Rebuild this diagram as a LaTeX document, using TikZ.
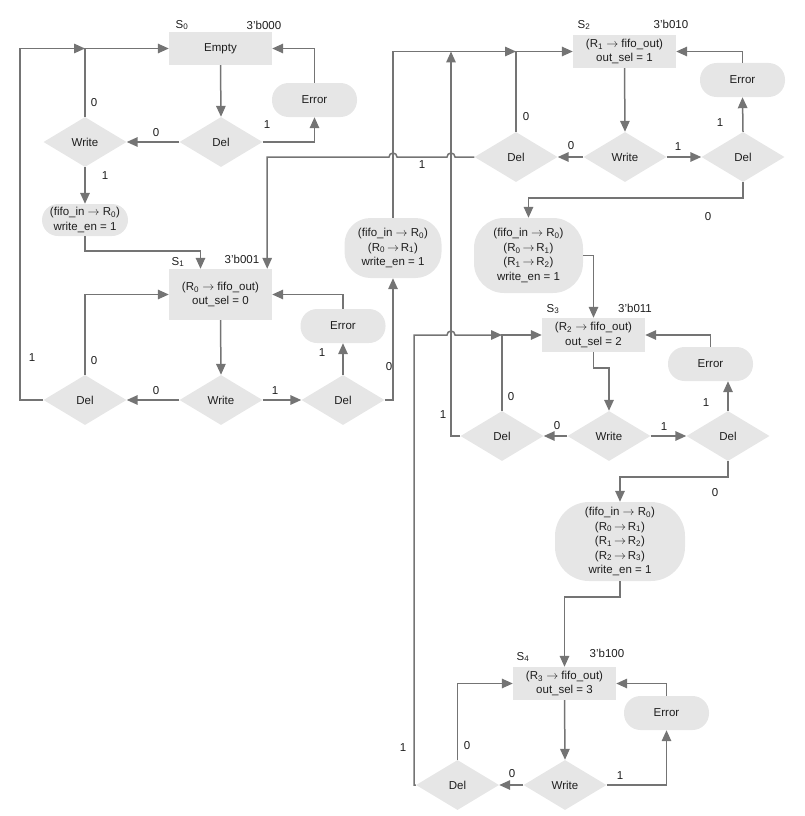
\documentclass[tikz,border=0pt]{standalone}
\usepackage{fontspec}
\setmainfont{Liberation Sans}
\usetikzlibrary{arrows.meta,shapes.geometric,calc}
\definecolor{fillg}{HTML}{E6E6E6}
\definecolor{lineg}{HTML}{747474}
\definecolor{txt}{HTML}{1E1E1E}
\newcommand{\myss}[1]{\textsubscript{#1}}
\newcommand{\ar}{$\rightarrow$}
\newcommand{\rr}[2]{(R\myss{#1}\,\ar\,R\myss{#2})}
\begin{document}
\begin{tikzpicture}[x=1pt,y=-1pt,
  every node/.style={font=\fontsize{11.5}{14.5}\selectfont, text=txt},
  blk/.style={rectangle, fill=fillg, inner sep=0pt, align=center, minimum width=103pt, minimum height=33pt},
  dia/.style={diamond, fill=fillg, inner sep=0pt, minimum width=83pt, minimum height=50pt},
  pill/.style={rectangle, rounded corners=#1, fill=fillg, inner sep=0pt, align=center},
  errbox/.style={pill=16.5pt, minimum width=85pt, minimum height=34pt},
  arr/.style={draw=lineg, line width=1.5pt, -{Triangle[length=11pt,width=9.5pt]}},
  lbl/.style={inner sep=0pt}
]
\useasboundingbox (0,0) rectangle (804,816);

% ---------- S0 ----------
\node[blk] (S0) at (220.5,48.5) {Empty};
\node[lbl] (S0n) at (182,25) {S\myss{0}};
\node[lbl] (S0c) at (264,25) {3'b000};
\node[errbox] (E0) at (314.5,100) {Error};
\node[dia] (D0) at (221,142) {Del};
\node[dia] (W0) at (85,142) {Write};
\node[pill=16pt, minimum width=86pt, minimum height=32pt] (P0) at (85,220) {(fifo\_in \ar\ R\myss{0})\\write\_en = 1};

% ---------- S1 ----------
\node[blk, minimum height=51pt] (S1) at (220.5,294.5) {(R\myss{0} \ar\ fifo\_out)\\out\_sel = 0};
\node[lbl] (S1n) at (178,262) {S\myss{1}};
\node[lbl] (S1c) at (242,259) {3'b001};
\node[dia] (W1) at (221,400) {Write};
\node[dia] (DL1) at (85,400) {Del};
\node[dia] (DR1) at (343,400) {Del};
\node[errbox] (E1) at (343,326) {Error};
\node[pill=26pt, minimum width=97pt, minimum height=60pt] (P1) at (393,248) {(fifo\_in \ar\ R\myss{0})\\\rr{0}{1}\\write\_en = 1};

% ---------- S2 ----------
\node[blk] (S2) at (624.5,51.5) {(R\myss{1} \ar\ fifo\_out)\\out\_sel = 1};
\node[lbl] (S2n) at (584,25) {S\myss{2}};
\node[lbl] (S2c) at (671,24) {3'b010};
\node[dia] (DL2) at (516,157) {Del};
\node[dia] (W2) at (625,157) {Write};
\node[dia] (DR2) at (743,157) {Del};
\node[errbox] (E2) at (742.5,80) {Error};
\node[pill=30pt, minimum width=109pt, minimum height=75pt] (P2) at (528.5,255.5) {(fifo\_in \ar\ R\myss{0})\\\rr{0}{1}\\\rr{1}{2}\\write\_en = 1};

% ---------- S3 ----------
\node[blk, minimum height=34pt] (S3) at (593.5,335) {(R\myss{2} \ar\ fifo\_out)\\out\_sel = 2};
\node[lbl] (S3n) at (553,309) {S\myss{3}};
\node[lbl] (S3c) at (635,308) {3'b011};
\node[dia] (DL3) at (502,436) {Del};
\node[dia] (W3) at (609,436) {Write};
\node[dia] (DR3) at (728,436) {Del};
\node[errbox] (E3) at (710.5,364) {Error};
\node[pill=34pt, minimum width=130pt, minimum height=79pt] (P3) at (620,541.5) {(fifo\_in \ar\ R\myss{0})\\\rr{0}{1}\\\rr{1}{2}\\\rr{2}{3}\\write\_en = 1};

% ---------- S4 ----------
\node[blk] (S4) at (564.5,683.5) {(R\myss{3} \ar\ fifo\_out)\\out\_sel = 3};
\node[lbl] (S4n) at (523,657) {S\myss{4}};
\node[lbl] (S4c) at (607,653) {3'b100};
\node[dia] (D4) at (457.5,785) {Del};
\node[dia] (W4) at (565,785) {Write};
\node[errbox] (E4) at (666.5,713) {Error};

% ---------- junction coordinates ----------
\coordinate (j0) at (W0.north |- S0.west);
\coordinate (o1) at (20,48.5);
\coordinate (j2) at (DL2.north |- S2.west);
\coordinate (j3) at (451,51.5);
\coordinate (j4) at (DL3.north |- S3.west);
\coordinate (o4) at (414,335);
\coordinate (S1in1) at ($(S1.north)+(-20,0)$);
\coordinate (S1in2) at ($(S1.north east)+(-5,0)$);

% ---------- S0 connectors ----------
\draw[arr] (S0.south) -- (D0.north);
\draw[arr] (D0.west) -- (W0.east);
\draw[arr] (D0.east) -| (E0.south);
\draw[arr] (E0.north) |- (S0.east);
\draw[arr] (W0.north) |- (S0.west);
\draw[arr] (W0.south) -- (P0.north);
\draw[arr] (P0.south) -- ++(0,15) -| (S1in1);

% ---------- S1 connectors ----------
\draw[arr] (S1.south) -- (W1.north);
\draw[arr] (W1.west) -- (DL1.east);
\draw[arr] (W1.east) -- (DR1.west);
\draw[arr] (DR1.north) -- (E1.south);
\draw[arr] (E1.north) |- (S1.east);
\draw[arr] (DL1.north) |- (S1.west);
\draw[arr] (DL1.west) -| (o1) -- (j0);
\draw[arr] (DR1.east) -| (P1.south);
\draw[arr] (P1.north) |- (j2);

% ---------- S2 connectors ----------
\draw[arr] (S2.south) -- (W2.north);
\draw[arr] (W2.west) -- (DL2.east);
\draw[arr] (W2.east) -- (DR2.west);
\draw[arr] (DR2.north) -- (E2.south);
\draw[arr] (E2.north) |- (S2.east);
\draw[arr] (DL2.north) |- (S2.west);
\draw[arr] (DL2.west) -- ($(j3 |- DL2.west)+(4,0)$) arc[start angle=0,end angle=180,radius=4pt]
  -- ($(P1.north |- DL2.west)+(4,0)$) arc[start angle=0,end angle=180,radius=4pt]
  -- (S1in2 |- DL2.west) -- (S1in2);
\draw[arr] (DR2.south) -- ++(0,16) -| (P2.north);
\draw[arr] (P2.east) -| (S3.north);

% ---------- S3 connectors ----------
\draw[arr] (S3.south) -- ++(0,16) -| (W3.north);
\draw[arr] (W3.west) -- (DL3.east);
\draw[arr] (W3.east) -- (DR3.west);
\draw[arr] (DR3.north) -- (DR3.north |- E3.south);
\draw[arr] (E3.north) |- (S3.east);
\draw[arr] (DL3.north) |- (S3.west);
\draw[arr] (DL3.west) -| (j3);
\draw[arr] (DR3.south) -- ++(0,16) -| (P3.north);
\draw[arr] (P3.south) -- ++(0,16) -| (S4.north);

% ---------- S4 connectors ----------
\draw[arr] (S4.south) -- (W4.north);
\draw[arr] (W4.west) -- (D4.east);
\draw[arr] (W4.east) -| (E4.south);
\draw[arr] (E4.north) |- (S4.east);
\draw[arr] (D4.north) |- (S4.west);
\draw[arr] (D4.west) -| (o4) -- ($(j3 |- o4)+(-4,0)$) arc[start angle=180,end angle=0,radius=4pt] -- (j4);

% ---------- branch labels ----------
\node[lbl] (a1) at (156,133) {0};
\node[lbl] (a2) at (267,125) {1};
\node[lbl] (a3) at (94,103) {0};
\node[lbl] (a4) at (105,176) {1};
\node[lbl] (b0) at (32,358) {1};
\node[lbl] (b1) at (94,361) {0};
\node[lbl] (b2) at (156,391) {0};
\node[lbl] (b3) at (275,391) {1};
\node[lbl] (b4) at (322,353) {1};
\node[lbl] (b5) at (389,367) {0};
\node[lbl] (c1) at (422,165) {1};
\node[lbl] (c2) at (526,117) {0};
\node[lbl] (c3) at (571,146) {0};
\node[lbl] (c4) at (678,147) {1};
\node[lbl] (c5) at (720,123) {1};
\node[lbl] (c6) at (708,217) {0};
\node[lbl] (d1) at (443,415) {1};
\node[lbl] (d2) at (511,397) {0};
\node[lbl] (d3) at (557,426) {0};
\node[lbl] (d4) at (664,427) {1};
\node[lbl] (d5) at (706,403) {1};
\node[lbl] (d6) at (715,493) {0};
\node[lbl] (e1) at (403,748) {1};
\node[lbl] (e2) at (467,746) {0};
\node[lbl] (e3) at (512,774) {0};
\node[lbl] (e4) at (620,776) {1};
\end{tikzpicture}
\end{document}
